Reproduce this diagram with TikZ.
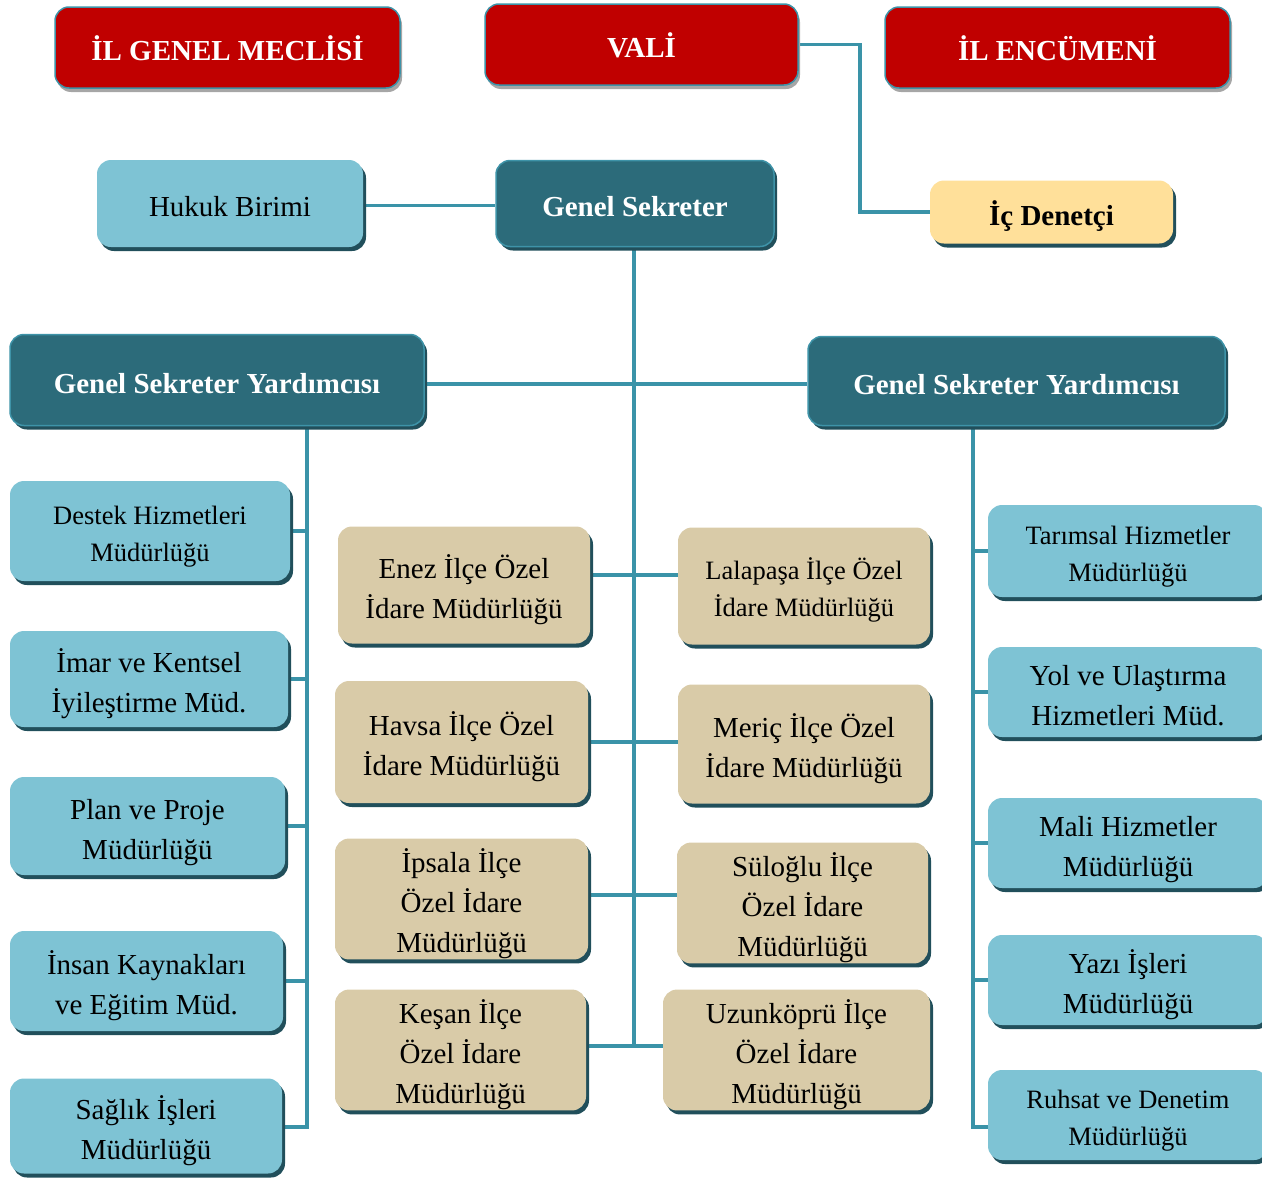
\documentclass[tikz,border=0pt]{standalone}
\usepackage{fontspec}
\setmainfont{Liberation Serif}
\usetikzlibrary{shadows,backgrounds}
\definecolor{redbox}{HTML}{C00000}
\definecolor{tealbox}{HTML}{2C6B7A}
\definecolor{tealedge}{HTML}{3E93A8}
\definecolor{bluebox}{HTML}{7EC3D4}
\definecolor{tanbox}{HTML}{D9CBA8}
\definecolor{yelbox}{HTML}{FFE09A}
\definecolor{linecol}{HTML}{3A93A8}
\definecolor{shdark}{HTML}{214F5B}
\definecolor{shgray}{HTML}{A6A6A6}
% struts: fixed top of first line and bottom of last line
\newcommand\hiS{\rule{0pt}{1.17em}}
\newcommand\loS{\rule[-0.24em]{0pt}{0.24em}}
\begin{document}
\begin{tikzpicture}[x=1pt,y=-1pt,
  base/.style={rounded corners=14pt, align=center, inner sep=0pt},
  darkshadow/.style={drop shadow={shadow xshift=3pt, shadow yshift=-4pt, fill=shdark, opacity=1}},
  redb/.style={base, fill=redbox, draw=tealedge, line width=1.5pt, text=white,
    font=\bfseries\fontsize{29}{34}\selectfont,
    drop shadow={shadow xshift=2pt, shadow yshift=-4pt, fill=shgray, opacity=1}},
  tealb/.style={base, darkshadow, fill=tealbox, draw=tealedge, line width=1.5pt, text=white,
    font=\bfseries\fontsize{29}{34}\selectfont},
  yelb/.style={base, darkshadow, fill=yelbox, text=black, font=\bfseries\fontsize{29}{34}\selectfont},
  blueb/.style={base, darkshadow, fill=bluebox, text=black, font=\fontsize{29}{40}\selectfont},
  bluesm/.style={blueb, font=\fontsize{26.5}{37}\selectfont},
  tanb/.style={base, darkshadow, fill=tanbox, text=black, font=\fontsize{29}{40}\selectfont},
  tansm/.style={tanb, font=\fontsize{26.5}{37}\selectfont},
  conn/.style={draw=linecol, line width=3.5pt}
]
\useasboundingbox (0,0) rectangle (1262,1178);

% top row
\node[redb, minimum width=345pt, minimum height=81pt] (meclis) at (227.5,47.5) {\hiS İL GENEL MECLİSİ\loS};
\node[redb, minimum width=313pt, minimum height=81pt] (vali) at (641.5,44.5) {\hiS VALİ\loS};
\node[redb, minimum width=345pt, minimum height=81pt] (encumen) at (1057.5,47.5) {\hiS İL ENCÜMENİ\loS};

% second row
\node[blueb, minimum width=266pt, minimum height=87pt] (hukuk) at (230,203.5) {\hiS Hukuk Birimi\loS};
\node[tealb, minimum width=278pt, minimum height=86pt] (gs) at (635,203.5) {\hiS Genel Sekreter\loS};
\node[yelb, minimum width=243pt, minimum height=63pt] (ic) at (1051.5,212) {\hiS İç Denetçi\loS};

% deputies
\node[tealb, minimum width=414pt, minimum height=91pt] (gsyL) at (217,380) {\hiS Genel Sekreter Yardımcısı\loS};
\node[tealb, minimum width=417pt, minimum height=89pt] (gsyR) at (1016.5,381) {\hiS Genel Sekreter Yardımcısı\loS};

% left column
\node[bluesm, minimum width=280pt, minimum height=100pt] (destek) at (150,531) {\hiS Destek Hizmetleri\\Müdürlüğü\loS};
\node[blueb, minimum width=278pt, minimum height=96pt] (imar) at (149,679) {\hiS İmar ve Kentsel\\İyileştirme Müd.\loS};
\node[blueb, minimum width=275pt, minimum height=98pt] (plan) at (147.5,826) {\hiS Plan ve Proje\\Müdürlüğü\loS};
\node[blueb, minimum width=273pt, minimum height=100pt] (insan) at (146.5,981) {\hiS İnsan Kaynakları\\ve Eğitim Müd.\loS};
\node[blueb, minimum width=272pt, minimum height=95pt] (saglik) at (146,1126) {\hiS Sağlık İşleri\\Müdürlüğü\loS};

% middle left
\node[tanb, minimum width=252pt, minimum height=117pt] (enez) at (464,585) {\hiS Enez İlçe Özel\\İdare Müdürlüğü\loS};
\node[tanb, minimum width=253pt, minimum height=122pt] (havsa) at (461.5,742) {\hiS Havsa İlçe Özel\\İdare Müdürlüğü\loS};
\node[tanb, minimum width=253pt, minimum height=112pt] (ipsala) at (461.5,899) {\hiS İpsala İlçe\\Özel İdare\\Müdürlüğü\loS};
\node[tanb, minimum width=251pt, minimum height=110pt] (kesan) at (460.5,1050) {\hiS Keşan İlçe\\Özel İdare\\Müdürlüğü\loS};

% middle right
\node[tansm, minimum width=252pt, minimum height=117pt] (lala) at (804,586) {\hiS Lalapaşa İlçe Özel\\İdare Müdürlüğü\loS};
\node[tanb, minimum width=252pt, minimum height=119pt] (meric) at (804,744) {\hiS Meriç İlçe Özel\\İdare Müdürlüğü\loS};
\node[tanb, minimum width=251pt, minimum height=108pt] (sulo) at (802.5,903) {\hiS Süloğlu İlçe\\Özel İdare\\Müdürlüğü\loS};
\node[tanb, minimum width=267pt, minimum height=110pt] (uzun) at (796.5,1050) {\hiS Uzunköprü İlçe\\Özel İdare\\Müdürlüğü\loS};

% right column
\node[bluesm, minimum width=280pt, minimum height=92pt] (tarim) at (1128,551) {\hiS Tarımsal Hizmetler\\Müdürlüğü\loS};
\node[blueb, minimum width=280pt, minimum height=90pt] (yol) at (1128,692) {\hiS Yol ve Ulaştırma\\Hizmetleri Müd.\loS};
\node[blueb, minimum width=280pt, minimum height=90pt] (mali) at (1128,843) {\hiS Mali Hizmetler\\Müdürlüğü\loS};
\node[blueb, minimum width=280pt, minimum height=90pt] (yazi) at (1128,980) {\hiS Yazı İşleri\\Müdürlüğü\loS};
\node[bluesm, minimum width=280pt, minimum height=90pt] (ruhsat) at (1128,1115) {\hiS Ruhsat ve Denetim\\Müdürlüğü\loS};

% helper coordinates
\coordinate (vturn) at (860,44.5);
\coordinate (mbot) at (634,1048);
\coordinate (ltop) at (307,424);
\coordinate (lbot) at (307,1127);
\coordinate (rtop) at (973,425);
\coordinate (rbot) at (973,1127);

\begin{scope}[on background layer]
\draw[conn] (vali.east) -- (vturn) |- (ic.west);
\draw[conn] ([yshift=-2pt]hukuk.east) -- ([yshift=-2pt]hukuk.east -| gs.west);
\draw[conn] (gs.south -| mbot) -- (mbot);
\draw[conn] ([yshift=-4pt]gsyL.east) -- ([yshift=-4pt]gsyL.east -| gsyR.west);
% left trunk
\draw[conn] (ltop) -- (lbot) -- (lbot -| saglik.east);
\draw[conn] (destek.east) -- (destek.east -| ltop);
\draw[conn] (imar.east) -- (imar.east -| ltop);
\draw[conn] (plan.east) -- (plan.east -| ltop);
\draw[conn] (insan.east) -- (insan.east -| ltop);
% right trunk
\draw[conn] (rtop) -- (rbot) -- (rbot -| ruhsat.west);
\draw[conn] (tarim.west) -- (tarim.west -| rtop);
\draw[conn] (yol.west) -- (yol.west -| rtop);
\draw[conn] (mali.west) -- (mali.west -| rtop);
\draw[conn] (yazi.west) -- (yazi.west -| rtop);
% middle branches
\draw[conn] ([yshift=10pt]enez.east) -- ([yshift=10pt]enez.east -| lala.west);
\draw[conn] (havsa.east) -- (havsa.east -| meric.west);
\draw[conn] ([yshift=4pt]ipsala.east) -- ([yshift=4pt]ipsala.east -| sulo.west);
\draw[conn] ([yshift=4pt]kesan.east) -- ([yshift=4pt]kesan.east -| uzun.west);
\end{scope}
\end{tikzpicture}
\end{document}
